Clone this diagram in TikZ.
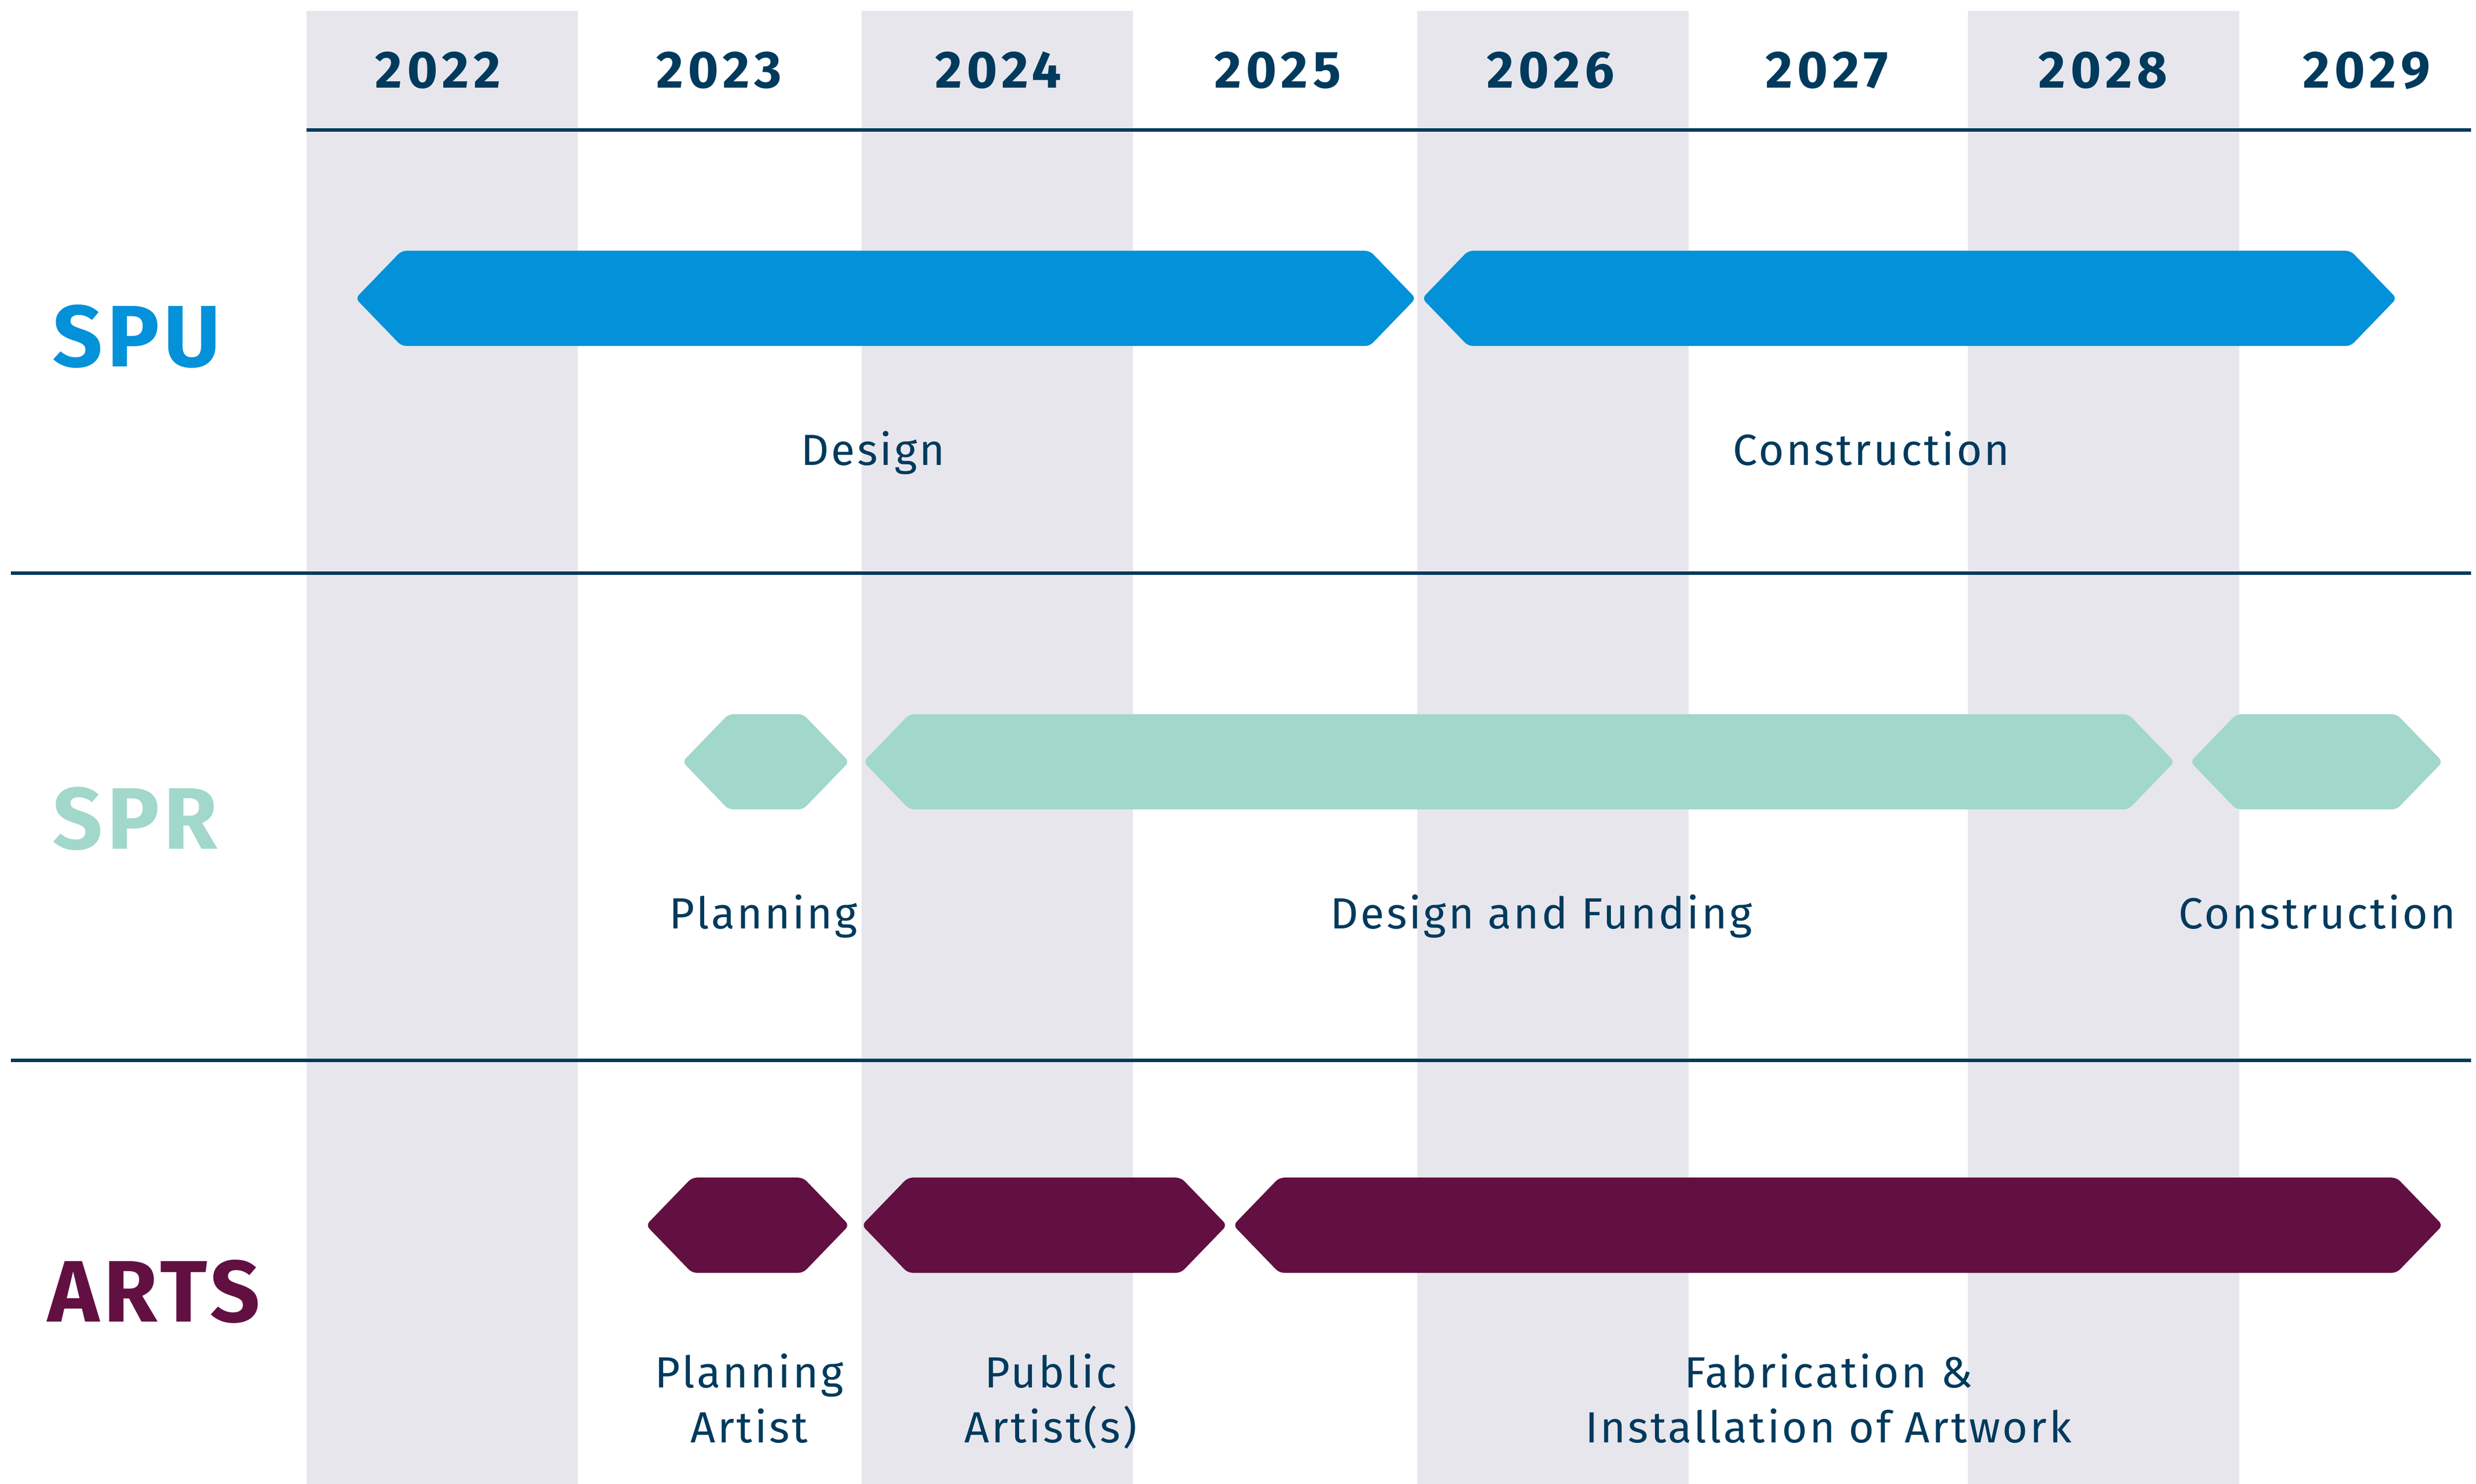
\documentclass[tikz,border=0pt]{standalone}
\usepackage{fontspec}
\setmainfont{Fira Sans}
\usetikzlibrary{positioning}
\definecolor{spublue}{HTML}{0391D9}
\definecolor{sprmint}{HTML}{A2D7CB}
\definecolor{artsplum}{HTML}{621041}
\definecolor{navy}{HTML}{003A5D}
\definecolor{colgray}{HTML}{E7E6ED}
\tikzstyle{year} = [text=navy, anchor=base, inner sep=0pt,
    font=\fontsize{33}{33}\selectfont\bfseries\addfontfeature{LetterSpace=9}]
\tikzstyle{group} = [anchor=base west, inner sep=0pt,
    font=\fontsize{55}{55}\selectfont\bfseries\addfontfeature{LetterSpace=5}]
\tikzstyle{phase} = [text=navy, anchor=base, inner sep=0pt, align=center,
    font=\fontsize{27.5}{34.5}\selectfont\addfontfeature{LetterSpace=5}]
\tikzstyle{rule} = [navy, line width=2.2pt]
% hexagon bar: name, colour, left tip, right tip, middle
\newcommand{\phasebar}[5]{%
  \fill [#2, rounded corners=3pt] (#3,#5) -- (#3+29,#5-30) -- (#4-29,#5-30)
    -- (#4,#5) -- (#4-29,#5+30) -- (#3+29,#5+30) -- cycle;
  \coordinate (#1) at ({(#3+#4)/2},#5);}

\begin{document}
\begin{tikzpicture}[x=1pt, y=-1pt]
  \useasboundingbox (0,0) rectangle (1560,935);
  % year columns
  \foreach \x in {193,543,893,1240}
    \fill [colgray] (\x,7) rectangle (\x+171,935);
  \foreach \yr/\x in {2022/276,2023/453,2024/629,2025/805,2026/977,2027/1151,2028/1325,2029/1491}
    \node [year] (y\yr) at (\x,55.5) {\yr};
  \coordinate (hl) at (193,82);
  \coordinate (hr) at (1557,82);
  \draw [rule] (hl) -- (hr);
  \coordinate (s1l) at (7,361);
  \coordinate (s1r) at (1557,361);
  \coordinate (s2l) at (7,668);
  \coordinate (s2r) at (1557,668);
  \draw [rule] (s1l) -- (s1r);
  \draw [rule] (s2l) -- (s2r);

  % SPU
  \node [group, text=spublue] (spu) at (33,231) {SPU};
  \phasebar{spudes}{spublue}{224}{892}{188}
  \phasebar{spucon}{spublue}{896}{1510}{188}
  \node [phase] (spudesl) at (550,293) {Design};
  \node [phase] (spuconl) at (1179,293) {Construction};

  % SPR
  \node [group, text=sprmint] (spr) at (33,535) {SPR};
  \phasebar{sprpla}{sprmint}{430}{535}{480}
  \phasebar{sprdes}{sprmint}{544}{1370}{480}
  \phasebar{sprcon}{sprmint}{1380}{1539}{480}
  \node [phase] (sprplal) at (481,585) {Planning};
  \node [phase] (sprdesl) at (971,585) {Design and Funding};
  \node [phase] (sprconl) at (1460,585) {Construction};

  % ARTS
  \node [group, text=artsplum] (arts) at (30,833) {ARTS};
  \phasebar{artpla}{artsplum}{407}{535}{772}
  \phasebar{artpub}{artsplum}{543}{773}{772}
  \phasebar{artfab}{artsplum}{777}{1539}{772}
  \node [phase] (artplal) at (472,909) {Planning\\Artist};
  \node [phase] (artpubl) at (662,909) {Public\\Artist(s)};
  \node [phase] (artfabl) at (1152,909) {Fabrication \&\\Installation of Artwork};
\end{tikzpicture}
\end{document}
